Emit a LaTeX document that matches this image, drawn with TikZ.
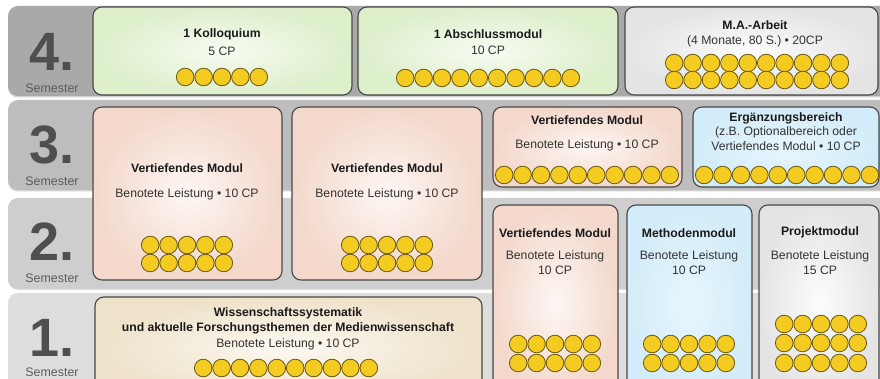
\documentclass[tikz,border=0pt]{standalone}
\usepackage{fontspec}
\setmainfont{Liberation Sans}
\definecolor{bandA}{HTML}{A9A9A9}
\definecolor{bandB}{HTML}{BDBDBD}
\definecolor{bandC}{HTML}{CECECE}
\definecolor{bandD}{HTML}{DDDDDD}
\definecolor{shadowgray}{HTML}{9A9A9A}
\definecolor{numgray}{HTML}{4F4F4F}
\definecolor{semgray}{HTML}{5C5C5C}
\definecolor{boxline}{HTML}{474747}
\definecolor{greenO}{HTML}{DDEFCB}
\definecolor{greenI}{HTML}{F7FBF2}
\definecolor{grayO}{HTML}{E4E4E4}
\definecolor{grayI}{HTML}{FCFCFC}
\definecolor{peachO}{HTML}{F3D8CB}
\definecolor{peachI}{HTML}{FDF6F3}
\definecolor{blueO}{HTML}{D2ECF9}
\definecolor{blueI}{HTML}{E8F6FD}
\definecolor{creamO}{HTML}{EEE2CA}
\definecolor{creamI}{HTML}{FCF9F1}
\definecolor{coinfill}{HTML}{F4CB20}
\definecolor{coinline}{HTML}{665510}
\definecolor{txtdark}{HTML}{1A1A1A}
\definecolor{txtsub}{HTML}{333333}
\newcommand\coinrow[3]{%
  \foreach \i in {1,...,#3}{\draw[coin] ({#1+(\i-(#3+1)/2)*18.4},#2) circle (8.8pt);}}
\begin{document}
\begin{tikzpicture}[x=1pt,y=-1pt,
  band/.style={rounded corners=10pt},
  bandshadow/.style={rounded corners=10pt, fill=shadowgray, opacity=0.45},
  modbox/.style={draw=boxline, line width=1.1pt, rounded corners=9pt},
  coin/.style={fill=coinfill, draw=coinline, line width=0.8pt},
  num/.style={font=\fontsize{54}{54}\selectfont\bfseries, text=numgray, anchor=base, inner sep=0pt},
  semlbl/.style={font=\fontsize{12.4}{14}\selectfont, text=semgray, inner sep=0pt},
  ttl/.style={font=\fontsize{12.2}{14}\selectfont\bfseries, text=txtdark, inner sep=0pt},
  sub/.style={font=\fontsize{12.2}{14}\selectfont, text=txtsub, inner sep=0pt}]
\useasboundingbox (0,0) rectangle (880,379);
\clip (0,0) rectangle (880,379);
\fill[white] (0,0) rectangle (880,379);
% semester bands with soft shadow
\fill[bandshadow] (8,7.5) rectangle (900,97.5);
\fill[bandshadow] (8,101.5) rectangle (900,191.5);
\fill[bandshadow] (8,199.5) rectangle (900,289.5);
\fill[band, bandA] (8,6) rectangle (900,96);
\fill[band, bandB] (8,100) rectangle (900,190);
\fill[band, bandC] (8,198) rectangle (900,288);
\fill[band, bandD] (8,293) rectangle (900,420);
% semester labels
\node[num] (n4) at (52,71) {4.};
\node[semlbl] (s4) at (52,88) {Semester};
\node[num] (n3) at (52,164) {3.};
\node[semlbl] (s3) at (52,181) {Semester};
\node[num] (n2) at (52,261) {2.};
\node[semlbl] (s2) at (52,278) {Semester};
\node[num] (n1) at (52,356) {1.};
\node[semlbl] (s1) at (52,372) {Semester};
% module boxes
\draw[modbox, inner color=greenI, outer color=greenO] (93,7) rectangle (352,95);
\draw[modbox, inner color=greenI, outer color=greenO] (358,7) rectangle (618,95);
\draw[modbox, inner color=grayI, outer color=grayO] (625,7) rectangle (878,95);
\draw[modbox, inner color=peachI, outer color=peachO] (93,107) rectangle (282,280);
\draw[modbox, inner color=peachI, outer color=peachO] (292,107) rectangle (482,280);
\draw[modbox, inner color=peachI, outer color=peachO] (493,107) rectangle (682,187);
\draw[modbox, inner color=blueI, outer color=blueO] (693,107) rectangle (879,187);
\draw[modbox, inner color=peachI, outer color=peachO] (493,205) rectangle (618,400);
\draw[modbox, inner color=blueI, outer color=blueO] (627,205) rectangle (752,400);
\draw[modbox, inner color=grayI, outer color=grayO] (759,205) rectangle (879,400);
\draw[modbox, inner color=creamI, outer color=creamO] (95,297) rectangle (482,400);
% texts
\node[ttl] (kolt) at (222,34) {1 Kolloquium};
\node[sub] (kols) at (222,51) {5 CP};
\node[ttl] (abst) at (488,34) {1 Abschlussmodul};
\node[sub] (abss) at (488,50) {10 CP};
\node[ttl] (mat) at (755,25) {M.A.-Arbeit};
\node[sub] (mas) at (755,41) {(4 Monate, 80 S.) • 20CP};
\node[ttl] (v1t) at (187,168) {Vertiefendes Modul};
\node[sub] (v1s) at (187,194) {Benotete Leistung • 10 CP};
\node[ttl] (v2t) at (387,168) {Vertiefendes Modul};
\node[sub] (v2s) at (387,194) {Benotete Leistung • 10 CP};
\node[ttl] (v3t) at (587,120) {Vertiefendes Modul};
\node[sub] (v3s) at (587,145) {Benotete Leistung • 10 CP};
\node[ttl] (ergt) at (786,118) {Ergänzungsbereich};
\node[sub] (ergs) at (786,132) {(z.B. Optionalbereich oder};
\node[sub] (ergu) at (786,146) {Vertiefendes Modul • 10 CP};
\node[ttl] (v4t) at (555,233) {Vertiefendes Modul};
\node[sub] (v4s) at (555,256) {Benotete Leistung};
\node[sub] (v4u) at (555,270) {10 CP};
\node[ttl] (mett) at (689,233) {Methodenmodul};
\node[sub] (mets) at (689,256) {Benotete Leistung};
\node[sub] (metu) at (689,270) {10 CP};
\node[ttl] (prot) at (820,232) {Projektmodul};
\node[sub] (pros) at (820,256) {Benotete Leistung};
\node[sub] (prou) at (820,270) {15 CP};
\node[ttl] (wist) at (288,313) {Wissenschaftssystematik};
\node[ttl] (wisu) at (288,328) {und aktuelle Forschungsthemen der Medienwissenschaft};
\node[sub] (wiss) at (288,344) {Benotete Leistung • 10 CP};
% coins
\coinrow{222}{77}{5}
\coinrow{488}{78}{10}
\coinrow{757}{63}{10}
\coinrow{757}{80}{10}
\coinrow{187}{245}{5}
\coinrow{187}{263}{5}
\coinrow{387}{245}{5}
\coinrow{387}{263}{5}
\coinrow{587}{175}{10}
\coinrow{787}{175}{10}
\coinrow{555}{344}{5}
\coinrow{555}{363}{5}
\coinrow{689}{344}{5}
\coinrow{689}{363}{5}
\coinrow{821}{324}{5}
\coinrow{821}{343}{5}
\coinrow{821}{363}{5}
\coinrow{286}{368}{10}
\end{tikzpicture}
\end{document}
